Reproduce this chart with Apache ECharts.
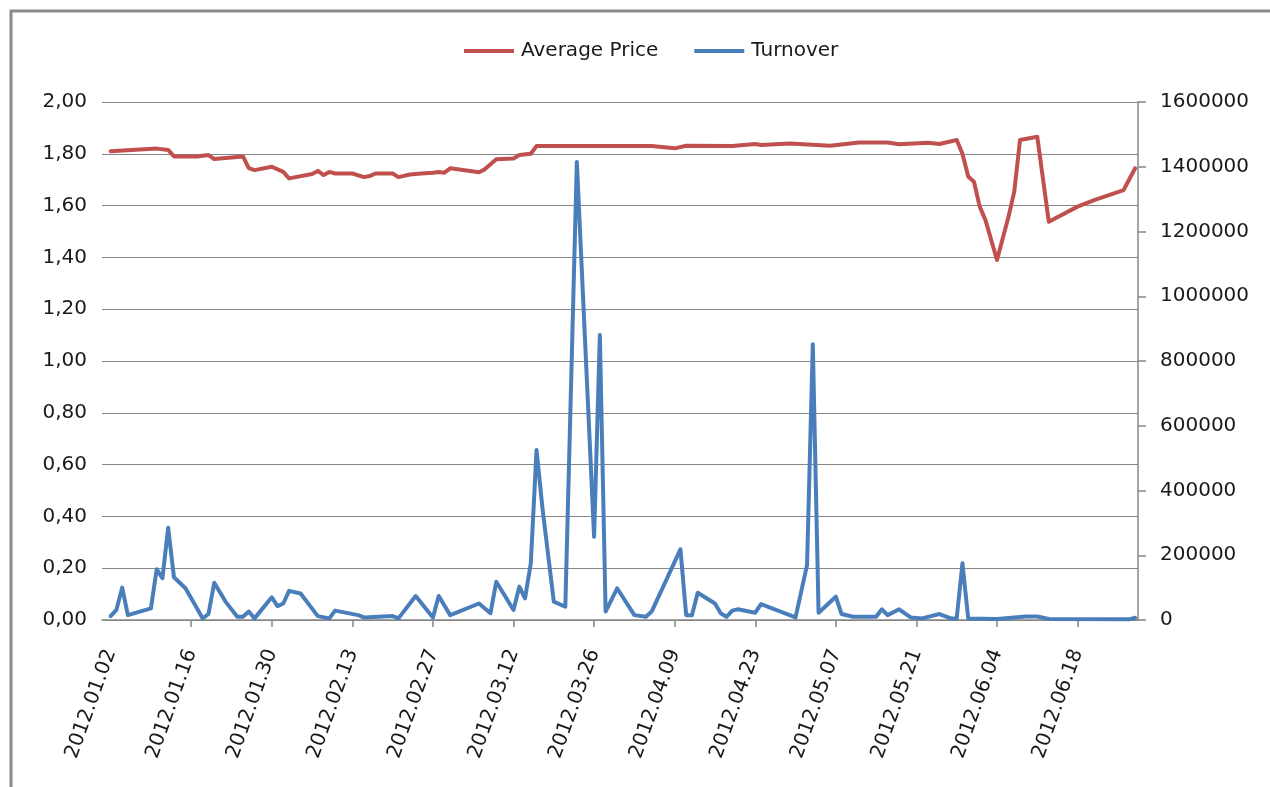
<!DOCTYPE html>
<html>
<head>
<meta charset="utf-8">
<script src="https://cdn.jsdelivr.net/npm/echarts@6/dist/echarts.min.js"></script>
<style>
  html, body { margin: 0; padding: 0; background: #fff; }
  #chart { width: 1270px; height: 787px; }
</style>
</head>
<body>
<div id="chart"></div>
<script>
// Daily axis span
const firstDay = '2012.01.01';
const lastDay = '2012.06.28';

// Average price (left axis)
const priceDates = ['2012.01.02','2012.01.10','2012.01.12','2012.01.13','2012.01.17','2012.01.19','2012.01.20','2012.01.25','2012.01.26','2012.01.27',
  '2012.01.30','2012.02.01','2012.02.02','2012.02.06','2012.02.07','2012.02.08','2012.02.09','2012.02.10','2012.02.13','2012.02.15',
  '2012.02.16','2012.02.17','2012.02.20','2012.02.21','2012.02.23','2012.02.25','2012.02.27','2012.02.28','2012.02.29','2012.03.01',
  '2012.03.06','2012.03.07','2012.03.09','2012.03.12','2012.03.13','2012.03.15','2012.03.16','2012.04.05','2012.04.09','2012.04.11',
  '2012.04.19','2012.04.23','2012.04.24','2012.04.29','2012.05.06','2012.05.11','2012.05.16','2012.05.18','2012.05.23','2012.05.25',
  '2012.05.28','2012.05.29','2012.05.30','2012.05.31','2012.06.01','2012.06.02','2012.06.04','2012.06.06','2012.06.07','2012.06.08',
  '2012.06.11','2012.06.13','2012.06.18','2012.06.21','2012.06.26','2012.06.28'];
const priceValues = [1.81,1.82,1.815,1.79,1.79,1.795,1.78,1.79,1.745,1.737,
  1.75,1.73,1.705,1.722,1.734,1.718,1.73,1.724,1.724,1.71,
  1.714,1.724,1.724,1.71,1.72,1.724,1.727,1.73,1.727,1.744,
  1.729,1.74,1.779,1.782,1.795,1.80,1.83,1.83,1.821,1.831,
  1.83,1.838,1.834,1.84,1.831,1.844,1.844,1.837,1.843,1.838,
  1.853,1.80,1.712,1.692,1.596,1.544,1.39,1.557,1.654,1.853,
  1.866,1.538,1.596,1.622,1.66,1.744];

// Turnover (right axis)
const turnoverDates = ['2012.01.02','2012.01.03','2012.01.04','2012.01.05','2012.01.09','2012.01.10','2012.01.11','2012.01.12','2012.01.13','2012.01.15',
  '2012.01.17','2012.01.18','2012.01.19','2012.01.20','2012.01.22','2012.01.24','2012.01.25','2012.01.26','2012.01.27','2012.01.30',
  '2012.01.31','2012.02.01','2012.02.02','2012.02.04','2012.02.07','2012.02.09','2012.02.10','2012.02.14','2012.02.15','2012.02.20',
  '2012.02.21','2012.02.24','2012.02.27','2012.02.28','2012.03.01','2012.03.06','2012.03.08','2012.03.09','2012.03.12','2012.03.13',
  '2012.03.14','2012.03.15','2012.03.16','2012.03.17','2012.03.19','2012.03.21','2012.03.23','2012.03.26','2012.03.27','2012.03.28',
  '2012.03.30','2012.04.02','2012.04.04','2012.04.05','2012.04.10','2012.04.11','2012.04.12','2012.04.13','2012.04.16','2012.04.17',
  '2012.04.18','2012.04.19','2012.04.20','2012.04.23','2012.04.24','2012.04.30','2012.05.02','2012.05.03','2012.05.04','2012.05.07',
  '2012.05.08','2012.05.10','2012.05.14','2012.05.15','2012.05.16','2012.05.18','2012.05.20','2012.05.22','2012.05.25','2012.05.27',
  '2012.05.28','2012.05.29','2012.05.30','2012.06.04','2012.06.09','2012.06.11','2012.06.13','2012.06.27','2012.06.28'];
const turnoverValues = [12000,31000,100000,15000,36000,157000,129000,285000,132000,98000,
  36000,5000,18500,115000,56000,10000,10000,26000,5000,70000,
  43000,51000,90000,82000,12000,5000,29000,15000,8000,12000,
  5000,74000,8000,74000,15000,51000,21000,118000,31000,103000,
  67000,175000,525000,350000,56500,41000,1415000,257000,880000,26000,
  98000,15000,10000,26000,218000,15000,15000,84000,51000,21000,
  10000,29000,33000,22600,49000,8000,170000,852000,22600,72000,
  18500,10000,10000,33000,15000,33000,8000,5000,18500,5000,
  5000,175000,5000,3000,11000,11000,3000,2000,7000];

// Axis ranges
const priceAxis = { min: 0, max: 2, step: 0.2 };
const turnoverAxis = { min: 0, max: 1600000, step: 200000 };
const labelEvery = 14;   // days between date labels

// Build the daily category list
function fmt(d) {
  const m = String(d.getUTCMonth() + 1).padStart(2, '0');
  const day = String(d.getUTCDate()).padStart(2, '0');
  return d.getUTCFullYear() + '.' + m + '.' + day;
}
function parse(s) {
  const p = s.split('.').map(Number);
  return new Date(Date.UTC(p[0], p[1] - 1, p[2]));
}
const days = [];
for (let d = parse(firstDay); d <= parse(lastDay); d = new Date(d.getTime() + 86400000)) {
  days.push(fmt(d));
}
function toDaily(dates, values) {
  const out = days.map(() => null);
  dates.forEach((s, i) => { out[days.indexOf(s)] = values[i]; });
  return out;
}

const isLabelDay = (i) => i >= 1 && (i - 1) % labelEvery === 0;
const textColor = '#1a1a1a';
const gridColor = '#878787';
const font = 'DejaVu Sans';

const chart = echarts.init(document.getElementById('chart'), null, { renderer: 'canvas' });
chart.setOption({
  animation: false,
  backgroundColor: '#ffffff',
  graphic: [{
    type: 'rect',
    shape: { x: 11, y: 11, width: 1400, height: 1000 },
    style: { fill: 'none', stroke: '#8a8a8a', lineWidth: 3 },
    silent: true
  }],
  legend: {
    top: 36,
    left: 459,
    itemWidth: 50,
    itemHeight: 4,
    itemGap: 36,
    icon: 'rect',
    textStyle: { fontFamily: font, fontSize: 20, color: textColor, padding: [0, 0, 0, 2] },
    data: ['Average Price', 'Turnover']
  },
  grid: { left: 102, right: 132, top: 102, bottom: 167, containLabel: false, outerBoundsMode: 'none' },
  xAxis: {
    type: 'category',
    data: days,
    boundaryGap: true,
    axisLine: { show: true, lineStyle: { color: gridColor, width: 1.5 } },
    axisTick: { show: true, interval: (i) => isLabelDay(i) && i > 1, alignWithLabel: true, length: 7, lineStyle: { color: gridColor, width: 1.5 } },
    axisLabel: {
      interval: (i) => isLabelDay(i),
      rotate: 70,
      margin: 30,
      fontFamily: font,
      fontSize: 20,
      color: textColor
    },
    splitLine: { show: false }
  },
  yAxis: [{
    type: 'value',
    position: 'left',
    min: priceAxis.min,
    max: priceAxis.max,
    interval: priceAxis.step,
    axisLine: { show: false },
    axisTick: { show: false },
    axisLabel: {
      margin: 15,
      fontFamily: font,
      fontSize: 20,
      color: textColor,
      formatter: (v) => v.toFixed(2).replace('.', ',')
    },
    splitLine: { show: true, lineStyle: { color: gridColor, width: 1 } }
  }, {
    type: 'value',
    position: 'right',
    min: turnoverAxis.min,
    max: turnoverAxis.max,
    interval: turnoverAxis.step,
    axisLine: { show: true, lineStyle: { color: gridColor, width: 1.5 } },
    axisTick: { show: true, inside: false, length: 8, lineStyle: { color: gridColor, width: 1.5 } },
    axisLabel: {
      margin: 22,
      fontFamily: font,
      fontSize: 20,
      color: textColor,
      formatter: (v) => String(v)
    },
    splitLine: { show: false }
  }],
  series: [{
    name: 'Average Price',
    type: 'line',
    yAxisIndex: 0,
    data: toDaily(priceDates, priceValues),
    connectNulls: true,
    showSymbol: false,
    smooth: false,
    color: '#C0504D',
    lineStyle: { color: '#C0504D', width: 4, join: 'round', cap: 'round' },
    z: 3
  }, {
    name: 'Turnover',
    type: 'line',
    yAxisIndex: 1,
    data: toDaily(turnoverDates, turnoverValues),
    connectNulls: true,
    showSymbol: false,
    smooth: false,
    color: '#4A7EBB',
    lineStyle: { color: '#4A7EBB', width: 4, join: 'round', cap: 'round' },
    z: 2
  }]
});
</script>
</body>
</html>
